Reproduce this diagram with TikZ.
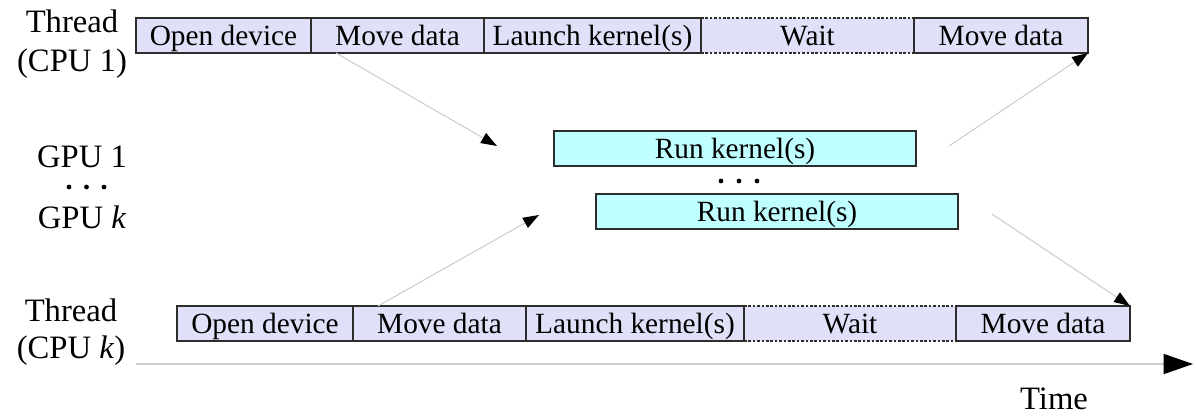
\documentclass[tikz,border=0pt]{standalone}
\usepackage{fontspec}
\setmainfont{Liberation Serif}
\usetikzlibrary{arrows.meta,calc}
\definecolor{lav}{RGB}{224,224,248}
\definecolor{cyanfill}{RGB}{192,255,255}
\definecolor{edge}{RGB}{45,45,45}
\definecolor{arrowgray}{RGB}{205,205,205}
\begin{document}
\begin{tikzpicture}[x=0.75pt,y=-0.75pt,
  seg/.style={draw=edge, line width=0.9pt, fill=lav, minimum height=26.25pt,
    inner sep=0pt, outer sep=0pt, anchor=west,
    font=\fontsize{22}{26}\selectfont, text height=17pt, text depth=2.6pt},
  waitseg/.style={seg, draw=none},
  waitline/.style={draw=edge, line width=0.8pt, dash pattern=on 2pt off 1.3pt},
  gpubox/.style={seg, fill=cyanfill},
  lbl/.style={font=\fontsize{24.5}{29}\selectfont, inner sep=0pt, anchor=base},
  flow/.style={draw=arrowgray, line width=0.8pt,
    -{Triangle[length=12pt,width=8.5pt,color=black]}},
  timeaxis/.style={draw=arrowgray, line width=1.1pt,
    -{Triangle[length=22pt,width=15pt,color=black]}},
  blob/.style={circle, fill=black, inner sep=0pt, minimum size=3.6pt}
]
\useasboundingbox (0,0) rectangle (1197,415);

% ---- top thread (CPU 1)
\node[waitseg, minimum width=213*0.75pt] (twait) at (701,35.5) {Wait};
\draw[waitline] (twait.north west) -- (twait.north east)
                (twait.south west) -- (twait.south east);
\node[seg, minimum width=175*0.75pt] (topen) at (136,35.5) {Open device};
\node[seg, minimum width=173*0.75pt] (tmove1) at (311,35.5) {Move data};
\node[seg, minimum width=217*0.75pt] (tlaunch) at (484,35.5) {Launch kernel(s)};
\node[seg, minimum width=174*0.75pt] (tmove2) at (914,35.5) {Move data};

% ---- bottom thread (CPU k)
\node[waitseg, minimum width=212*0.75pt] (bwait) at (744,323.5) {Wait};
\draw[waitline] (bwait.north west) -- (bwait.north east)
                (bwait.south west) -- (bwait.south east);
\node[seg, minimum width=176*0.75pt] (bopen) at (177,323.5) {Open device};
\node[seg, minimum width=173*0.75pt] (bmove1) at (353,323.5) {Move data};
\node[seg, minimum width=218*0.75pt] (blaunch) at (526,323.5) {Launch kernel(s)};
\node[seg, minimum width=174*0.75pt] (bmove2) at (956,323.5) {Move data};

% ---- GPUs
\node[gpubox, minimum width=362*0.75pt] (gpu1) at (554,148.5) {Run kernel(s)};
\node[gpubox, minimum width=362*0.75pt] (gpuk) at (596,211.5) {Run kernel(s)};
\node[blob] (gd1) at (721,181) {};
\node[blob] (gd2) at (739,181) {};
\node[blob] (gd3) at (757,181) {};

% ---- left labels
\node[lbl] (l1a) at (72,32) {Thread};
\node[lbl] (l1b) at (72,71) {(CPU 1)};
\node[lbl] (lg1) at (82,167) {GPU 1};
\node[blob] (ld1) at (69,187) {};
\node[blob] (ld2) at (86.5,187) {};
\node[blob] (ld3) at (104,187) {};
\node[lbl] (lgk) at (82,228) {GPU \textit{k}};
\node[lbl] (l2a) at (71,321) {Thread};
\node[lbl] (l2b) at (71,358) {(CPU \textit{k})};

% ---- flow arrows
\coordinate (a1e) at (497,146);
\coordinate (a2s) at (949,146);
\coordinate (a3e) at (539,215);
\coordinate (a4s) at (992,214);
\draw[flow] ($(tmove1.south west)+(25,0)$) -- (a1e);
\draw[flow] (a2s) -- (tmove2.south east);
\draw[flow] ($(bmove1.north west)+(25,0)$) -- (a3e);
\draw[flow] (a4s) -- (bmove2.north east);

% ---- time axis
\coordinate (ts) at (136,364);
\coordinate (te) at (1193,364);
\draw[timeaxis] (ts) -- (te);
\node[lbl] (time) at (1054,409) {Time};
\end{tikzpicture}
\end{document}
